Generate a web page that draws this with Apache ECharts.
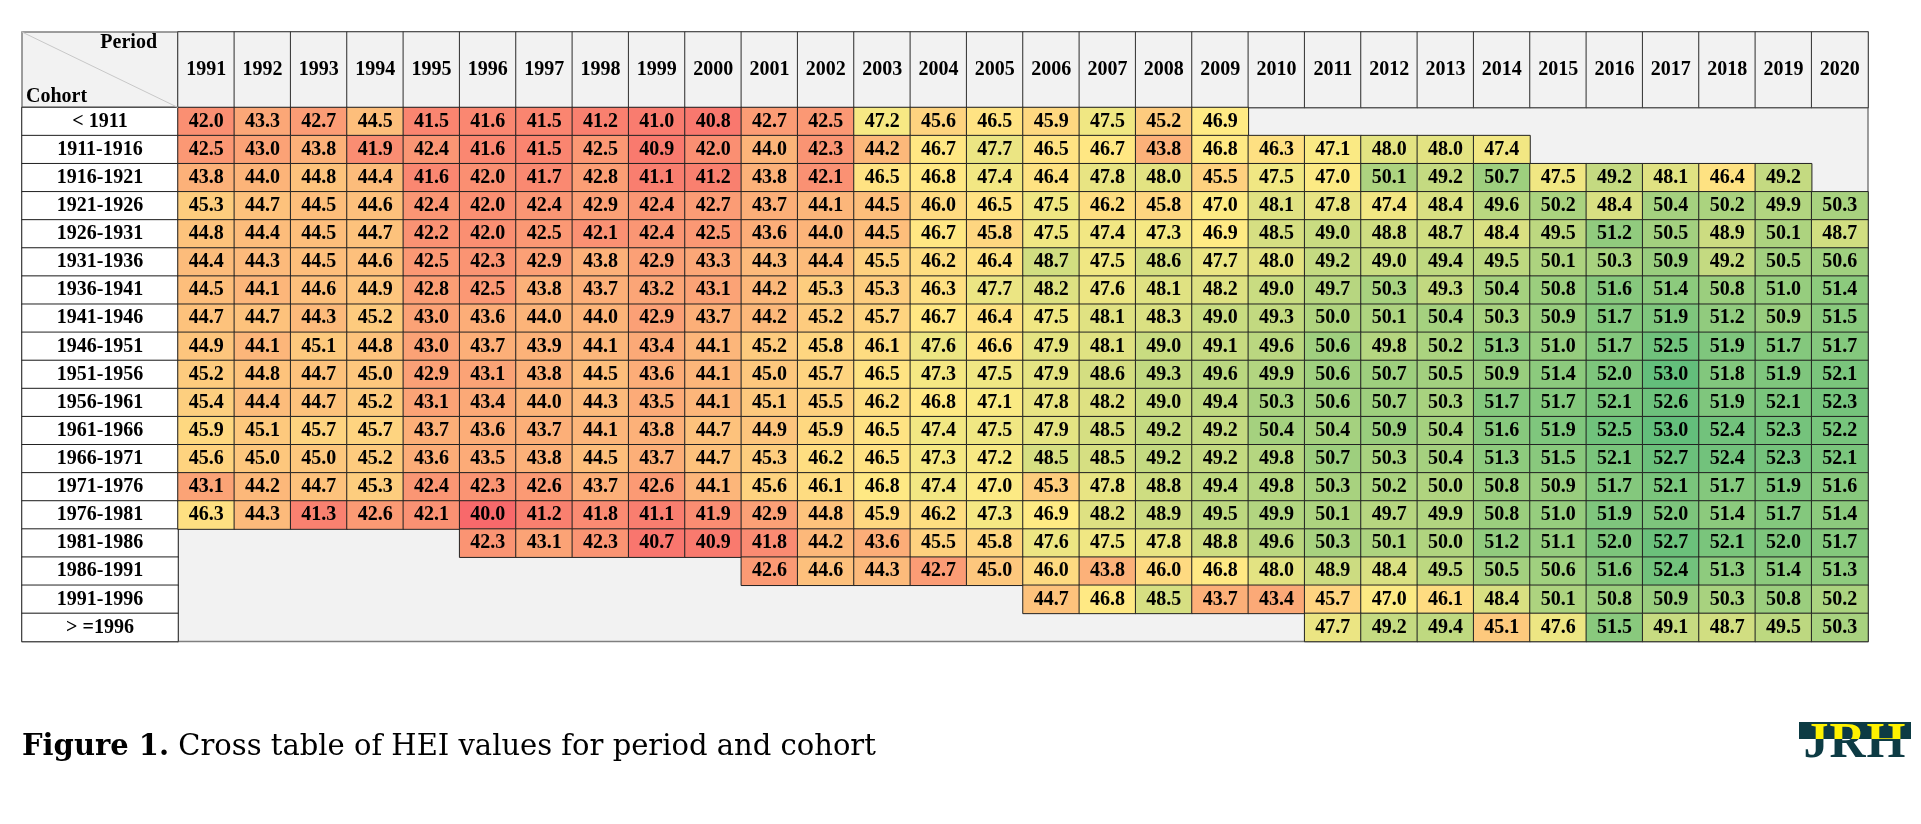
<!DOCTYPE html>
<html>
<head>
<meta charset="utf-8">
<title>HEI cross table</title>
<script src="https://cdn.jsdelivr.net/npm/echarts@6/dist/echarts.min.js"></script>
<style>
    html, body { margin: 0; padding: 0; background: #fff; }
    #chart { width: 1921px; height: 824px; }
</style>
</head>
<body>
<div id="chart"></div>
<script>
// periods (columns) and cohorts (rows)
var periods = [1991, 1992, 1993, 1994, 1995, 1996, 1997, 1998, 1999, 2000,
    2001, 2002, 2003, 2004, 2005, 2006, 2007, 2008, 2009, 2010,
    2011, 2012, 2013, 2014, 2015, 2016, 2017, 2018, 2019, 2020]
var cohorts = ['< 1911', '1911-1916', '1916-1921', '1921-1926', '1926-1931', '1931-1936',
    '1936-1941', '1941-1946', '1946-1951', '1951-1956', '1956-1961', '1961-1966',
    '1966-1971', '1971-1976', '1976-1981', '1981-1986', '1986-1991', '1991-1996', '> =1996']

// HEI values, one array per cohort, null = no observation
var hei_lt1911 = [42.0, 43.3, 42.7, 44.5, 41.5, 41.6, 41.5, 41.2, 41.0, 40.8, 42.7, 42.5, 47.2, 45.6, 46.5, 45.9, 47.5, 45.2, 46.9, null, null, null, null, null, null, null, null, null, null, null]
var hei_1911 = [42.5, 43.0, 43.8, 41.9, 42.4, 41.6, 41.5, 42.5, 40.9, 42.0, 44.0, 42.3, 44.2, 46.7, 47.7, 46.5, 46.7, 43.8, 46.8, 46.3, 47.1, 48.0, 48.0, 47.4, null, null, null, null, null, null]
var hei_1916 = [43.8, 44.0, 44.8, 44.4, 41.6, 42.0, 41.7, 42.8, 41.1, 41.2, 43.8, 42.1, 46.5, 46.8, 47.4, 46.4, 47.8, 48.0, 45.5, 47.5, 47.0, 50.1, 49.2, 50.7, 47.5, 49.2, 48.1, 46.4, 49.2, null]
var hei_1921 = [45.3, 44.7, 44.5, 44.6, 42.4, 42.0, 42.4, 42.9, 42.4, 42.7, 43.7, 44.1, 44.5, 46.0, 46.5, 47.5, 46.2, 45.8, 47.0, 48.1, 47.8, 47.4, 48.4, 49.6, 50.2, 48.4, 50.4, 50.2, 49.9, 50.3]
var hei_1926 = [44.8, 44.4, 44.5, 44.7, 42.2, 42.0, 42.5, 42.1, 42.4, 42.5, 43.6, 44.0, 44.5, 46.7, 45.8, 47.5, 47.4, 47.3, 46.9, 48.5, 49.0, 48.8, 48.7, 48.4, 49.5, 51.2, 50.5, 48.9, 50.1, 48.7]
var hei_1931 = [44.4, 44.3, 44.5, 44.6, 42.5, 42.3, 42.9, 43.8, 42.9, 43.3, 44.3, 44.4, 45.5, 46.2, 46.4, 48.7, 47.5, 48.6, 47.7, 48.0, 49.2, 49.0, 49.4, 49.5, 50.1, 50.3, 50.9, 49.2, 50.5, 50.6]
var hei_1936 = [44.5, 44.1, 44.6, 44.9, 42.8, 42.5, 43.8, 43.7, 43.2, 43.1, 44.2, 45.3, 45.3, 46.3, 47.7, 48.2, 47.6, 48.1, 48.2, 49.0, 49.7, 50.3, 49.3, 50.4, 50.8, 51.6, 51.4, 50.8, 51.0, 51.4]
var hei_1941 = [44.7, 44.7, 44.3, 45.2, 43.0, 43.6, 44.0, 44.0, 42.9, 43.7, 44.2, 45.2, 45.7, 46.7, 46.4, 47.5, 48.1, 48.3, 49.0, 49.3, 50.0, 50.1, 50.4, 50.3, 50.9, 51.7, 51.9, 51.2, 50.9, 51.5]
var hei_1946 = [44.9, 44.1, 45.1, 44.8, 43.0, 43.7, 43.9, 44.1, 43.4, 44.1, 45.2, 45.8, 46.1, 47.6, 46.6, 47.9, 48.1, 49.0, 49.1, 49.6, 50.6, 49.8, 50.2, 51.3, 51.0, 51.7, 52.5, 51.9, 51.7, 51.7]
var hei_1951 = [45.2, 44.8, 44.7, 45.0, 42.9, 43.1, 43.8, 44.5, 43.6, 44.1, 45.0, 45.7, 46.5, 47.3, 47.5, 47.9, 48.6, 49.3, 49.6, 49.9, 50.6, 50.7, 50.5, 50.9, 51.4, 52.0, 53.0, 51.8, 51.9, 52.1]
var hei_1956 = [45.4, 44.4, 44.7, 45.2, 43.1, 43.4, 44.0, 44.3, 43.5, 44.1, 45.1, 45.5, 46.2, 46.8, 47.1, 47.8, 48.2, 49.0, 49.4, 50.3, 50.6, 50.7, 50.3, 51.7, 51.7, 52.1, 52.6, 51.9, 52.1, 52.3]
var hei_1961 = [45.9, 45.1, 45.7, 45.7, 43.7, 43.6, 43.7, 44.1, 43.8, 44.7, 44.9, 45.9, 46.5, 47.4, 47.5, 47.9, 48.5, 49.2, 49.2, 50.4, 50.4, 50.9, 50.4, 51.6, 51.9, 52.5, 53.0, 52.4, 52.3, 52.2]
var hei_1966 = [45.6, 45.0, 45.0, 45.2, 43.6, 43.5, 43.8, 44.5, 43.7, 44.7, 45.3, 46.2, 46.5, 47.3, 47.2, 48.5, 48.5, 49.2, 49.2, 49.8, 50.7, 50.3, 50.4, 51.3, 51.5, 52.1, 52.7, 52.4, 52.3, 52.1]
var hei_1971 = [43.1, 44.2, 44.7, 45.3, 42.4, 42.3, 42.6, 43.7, 42.6, 44.1, 45.6, 46.1, 46.8, 47.4, 47.0, 45.3, 47.8, 48.8, 49.4, 49.8, 50.3, 50.2, 50.0, 50.8, 50.9, 51.7, 52.1, 51.7, 51.9, 51.6]
var hei_1976 = [46.3, 44.3, 41.3, 42.6, 42.1, 40.0, 41.2, 41.8, 41.1, 41.9, 42.9, 44.8, 45.9, 46.2, 47.3, 46.9, 48.2, 48.9, 49.5, 49.9, 50.1, 49.7, 49.9, 50.8, 51.0, 51.9, 52.0, 51.4, 51.7, 51.4]
var hei_1981 = [null, null, null, null, null, 42.3, 43.1, 42.3, 40.7, 40.9, 41.8, 44.2, 43.6, 45.5, 45.8, 47.6, 47.5, 47.8, 48.8, 49.6, 50.3, 50.1, 50.0, 51.2, 51.1, 52.0, 52.7, 52.1, 52.0, 51.7]
var hei_1986 = [null, null, null, null, null, null, null, null, null, null, 42.6, 44.6, 44.3, 42.7, 45.0, 46.0, 43.8, 46.0, 46.8, 48.0, 48.9, 48.4, 49.5, 50.5, 50.6, 51.6, 52.4, 51.3, 51.4, 51.3]
var hei_1991 = [null, null, null, null, null, null, null, null, null, null, null, null, null, null, null, 44.7, 46.8, 48.5, 43.7, 43.4, 45.7, 47.0, 46.1, 48.4, 50.1, 50.8, 50.9, 50.3, 50.8, 50.2]
var hei_ge1996 = [null, null, null, null, null, null, null, null, null, null, null, null, null, null, null, null, null, null, null, null, 47.7, 49.2, 49.4, 45.1, 47.6, 51.5, 49.1, 48.7, 49.5, 50.3]

var rows = [hei_lt1911, hei_1911, hei_1916, hei_1921, hei_1926, hei_1931, hei_1936,
    hei_1941, hei_1946, hei_1951, hei_1956, hei_1961, hei_1966, hei_1971, hei_1976,
    hei_1981, hei_1986, hei_1991, hei_ge1996]

// table layout (px)
var L = 22, SIDE_W = 156, TOP = 32, HEAD_H = 75.5
var BODY_W = 1690, BODY_H = 534
var X0 = L + SIDE_W, Y0 = TOP + HEAD_H

var cellFont = {
    fontFamily: '"Liberation Serif", "Times New Roman", serif',
    fontWeight: 'bold',
    fontSize: 20,
    color: '#000'
}

// body cells
var cells = [], all = []
rows.forEach(function (row, y) {
    row.forEach(function (v, x) {
        if (v != null) {
            cells.push([x, y, v])
            all.push(v)
        }
    })
})

// excel-like 3 colour scale: red - yellow (median) - green
all.sort(function (a, b) { return a - b })
var vMin = all[0], vMax = all[all.length - 1]
var vMid = all.length % 2 ? all[(all.length - 1) / 2] : (all[all.length / 2 - 1] + all[all.length / 2]) / 2
var RED = [248, 105, 107], YEL = [255, 235, 132], GRN = [99, 190, 123]

function mix(a, b, t) {
    return 'rgb(' + a.map(function (c, i) { return Math.round(c + (b[i] - c) * t) }).join(',') + ')'
}

var scale = []
for (var i = 0; i <= 130; i++) {
    var v = vMin + (vMax - vMin) * i / 130
    scale.push(v <= vMid ? mix(RED, YEL, (v - vMin) / (vMid - vMin)) : mix(YEL, GRN, (v - vMid) / (vMax - vMid)))
}

function hiddenAxis(gridIndex, data, inverse) {
    return {
        type: 'category',
        gridIndex: gridIndex,
        data: data,
        inverse: !!inverse,
        axisLine: {show: false},
        axisTick: {show: false},
        axisLabel: {show: false},
        splitLine: {show: false}
    }
}

// journal logo: yellow letters on a dark band at the top, dark letters below
var logoSvg = '<svg xmlns="http://www.w3.org/2000/svg" width="112" height="40">' +
    '<defs><clipPath id="top"><rect x="0" y="0" width="112" height="18"/></clipPath></defs>' +
    '<text x="56" y="36" text-anchor="middle" font-family="Liberation Serif" font-weight="bold" font-size="50" fill="#0d3b44" letter-spacing="1">JRH</text>' +
    '<rect x="0" y="1" width="112" height="17" fill="#0d3b44"/>' +
    '<text x="56" y="36" text-anchor="middle" font-family="Liberation Serif" font-weight="bold" font-size="50" fill="#fff200" letter-spacing="1" clip-path="url(#top)">JRH</text>' +
    '</svg>'

var chart = echarts.init(document.getElementById('chart'))

var option = {
    backgroundColor: '#fff',
    animation: false,
    grid: [
        // corner
        {left: L, top: TOP, width: SIDE_W, height: HEAD_H, show: true, backgroundColor: '#F2F2F2', borderColor: '#7f7f7f', borderWidth: 1.5},
        // header
        {left: X0, top: TOP, width: BODY_W, height: HEAD_H, show: true, backgroundColor: '#F2F2F2', borderColor: '#7f7f7f', borderWidth: 1.5},
        // cohort column
        {left: L, top: Y0, width: SIDE_W, height: BODY_H, show: true, backgroundColor: '#fff', borderColor: '#7f7f7f', borderWidth: 1.5},
        // body
        {left: X0, top: Y0, width: BODY_W, height: BODY_H, show: true, backgroundColor: '#F2F2F2', borderColor: '#7f7f7f', borderWidth: 1.5}
    ],
    xAxis: [
        hiddenAxis(0, ['']),
        hiddenAxis(1, periods),
        hiddenAxis(2, ['']),
        hiddenAxis(3, periods)
    ],
    yAxis: [
        hiddenAxis(0, ['']),
        hiddenAxis(1, ['']),
        hiddenAxis(2, cohorts, true),
        hiddenAxis(3, cohorts, true)
    ],
    visualMap: {
        type: 'continuous',
        show: false,
        seriesIndex: 2,
        dimension: 2,
        min: vMin,
        max: vMax,
        inRange: {color: scale}
    },
    series: [
        {
            type: 'heatmap',
            xAxisIndex: 1,
            yAxisIndex: 1,
            silent: true,
            data: periods.map(function (p, i) { return [i, 0, i] }),
            itemStyle: {color: '#F2F2F2', borderColor: '#333', borderWidth: 1},
            label: Object.assign({show: true, formatter: function (p) { return periods[p.value[0]] }}, cellFont),
            emphasis: {disabled: true}
        },
        {
            type: 'heatmap',
            xAxisIndex: 2,
            yAxisIndex: 2,
            silent: true,
            data: cohorts.map(function (c, i) { return [0, i, i] }),
            itemStyle: {color: '#fff', borderColor: '#222', borderWidth: 1},
            label: Object.assign({show: true, formatter: function (p) { return cohorts[p.value[1]] }}, cellFont),
            emphasis: {disabled: true}
        },
        {
            type: 'heatmap',
            xAxisIndex: 3,
            yAxisIndex: 3,
            silent: true,
            data: cells,
            itemStyle: {borderColor: '#222', borderWidth: 1},
            label: Object.assign({show: true, formatter: function (p) { return p.value[2].toFixed(1) }}, cellFont),
            emphasis: {disabled: true}
        }
    ],
    graphic: [
        {
            type: 'line',
            z: 100,
            shape: {x1: L, y1: TOP, x2: X0, y2: Y0},
            style: {stroke: '#c8c8c8', lineWidth: 1}
        },
        {
            type: 'text',
            z: 100,
            x: X0 - 21, y: TOP + 11,
            style: {text: 'Period', align: 'right', verticalAlign: 'middle', fill: '#000',
                font: 'bold 20px "Liberation Serif", serif'}
        },
        {
            type: 'text',
            z: 100,
            x: L + 4, y: Y0 - 11,
            style: {text: 'Cohort', align: 'left', verticalAlign: 'middle', fill: '#000',
                font: 'bold 20px "Liberation Serif", serif'}
        },
        {
            type: 'text',
            x: L, y: 747,
            style: {
                text: '{b|Figure 1.} Cross table of HEI values for period and cohort',
                verticalAlign: 'middle',
                fill: '#000',
                font: '29px "DejaVu Serif", serif',
                rich: {b: {fontWeight: 'bold', fontSize: 29, fontFamily: '"DejaVu Serif", serif'}}
            }
        },
        {
            type: 'image',
            x: 1799, y: 721,
            style: {
                image: 'data:image/svg+xml;charset=utf-8,' + encodeURIComponent(logoSvg),
                width: 112, height: 40
            }
        }
    ]
}

chart.setOption(option)
</script>
</body>
</html>
